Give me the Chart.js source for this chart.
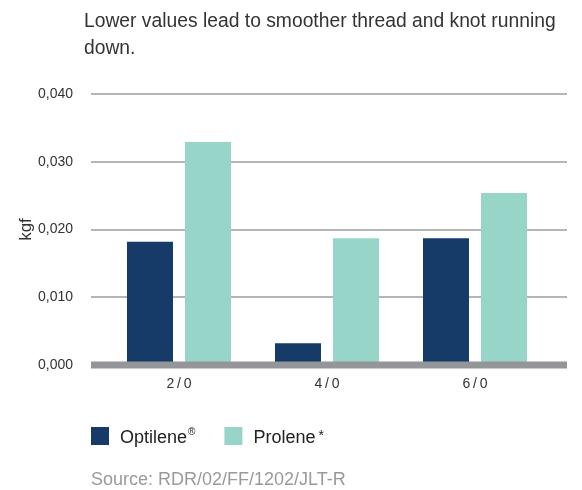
<!DOCTYPE html>
<html>
<head>
<meta charset="utf-8">
<script src="https://cdn.jsdelivr.net/npm/chart.js@4"></script>
<style>
  html, body { margin: 0; padding: 0; background: #fff; }
</style>
</head>
<body>
<canvas id="frictionChart" width="582" height="490"></canvas>
<script>
// data
const sizes = ['2/0', '4/0', '6/0'];
const optilene = [0.0182, 0.0032, 0.0187];
const prolene = [0.0329, 0.0187, 0.0254];
const seriesNames = ['Optilene', 'Prolene'];
const seriesMarks = ['®', '*'];
const seriesColors = ['#173b69', '#98d5c9'];
const titleLines = ['Lower values lead to smoother thread and knot running', 'down.'];
const sourceText = 'Source: RDR/02/FF/1202/JLT-R';

const FONT = '"Liberation Sans", Arial, sans-serif';

// horizontal grid lines reach a bit past the plot on both sides
const gridPlugin = {
    id: 'wideGrid',
    beforeDatasetsDraw(chart) {
        const { ctx, chartArea, scales: { y } } = chart;
        ctx.save();
        ctx.strokeStyle = '#9c9c9c';
        ctx.lineWidth = 1.5;
        y.ticks.forEach(t => {
            if (t.value === 0) return;
            const py = Math.round(y.getPixelForValue(t.value));
            ctx.beginPath();
            ctx.moveTo(chartArea.left - 14, py);
            ctx.lineTo(chartArea.right + 18, py);
            ctx.stroke();
        });
        ctx.restore();
    },
    afterDatasetsDraw(chart) {
        // thick grey base line
        const { ctx, chartArea, scales: { y } } = chart;
        const py = y.getPixelForValue(0);
        ctx.save();
        ctx.fillStyle = '#939598';
        ctx.fillRect(chartArea.left - 14, py - 3.5, chartArea.width + 32, 7);
        ctx.restore();
    }
};

// title, legend and source line
const textPlugin = {
    id: 'texts',
    afterDraw(chart) {
        const { ctx } = chart;
        ctx.save();
        ctx.textBaseline = 'alphabetic';
        ctx.textAlign = 'left';

        ctx.fillStyle = '#333';
        ctx.font = '19.3px ' + FONT;
        titleLines.forEach((line, i) => ctx.fillText(line, 84, 27 + i * 27));

        let x = 91;
        chart.data.datasets.forEach((ds, i) => {
            ctx.fillStyle = ds.backgroundColor;
            ctx.fillRect(x, 427, 18, 18);
            ctx.fillStyle = '#222';
            ctx.font = '18px ' + FONT;
            const tx = x + 29;
            ctx.fillText(seriesNames[i], tx, 443);
            let w = ctx.measureText(seriesNames[i]).width;
            ctx.font = (i === 0 ? '10px ' : '14px ') + FONT;
            ctx.fillText(seriesMarks[i], tx + w + (i === 0 ? 1 : 3), i === 0 ? 435 : 440);
            w += ctx.measureText(seriesMarks[i]).width + 3;
            x = tx + w + 27;
        });

        ctx.fillStyle = '#9a9a9a';
        ctx.font = '18px ' + FONT;
        ctx.fillText(sourceText, 91, 485);
        ctx.restore();
    }
};

new Chart(document.getElementById('frictionChart'), {
    type: 'bar',
    data: {
        labels: sizes,
        datasets: [
            {
                label: seriesNames[0] + seriesMarks[0],
                data: optilene,
                backgroundColor: seriesColors[0],
                categoryPercentage: 0.784,
                barPercentage: 0.793
            },
            {
                label: seriesNames[1] + seriesMarks[1],
                data: prolene,
                backgroundColor: seriesColors[1],
                categoryPercentage: 0.784,
                barPercentage: 0.793
            }
        ]
    },
    options: {
        responsive: false,
        animation: false,
        layout: {
            padding: { top: 94, right: 33, bottom: 65, left: 0 }
        },
        plugins: {
            legend: { display: false },
            title: { display: false },
            tooltip: { enabled: false }
        },
        scales: {
            x: {
                grid: { display: false },
                border: { display: false },
                ticks: {
                    color: '#333',
                    padding: 3,
                    font: { size: 14, family: FONT },
                    callback: function (v) {
                        // the reference spaces out the size labels
                        return this.getLabelForValue(v).split('').join('\u2009');
                    }
                },
                afterFit(axis) { axis.height = 60; }
            },
            y: {
                min: 0,
                max: 0.04,
                grid: { display: false },
                border: { display: false },
                title: {
                    display: true,
                    text: 'kgf',
                    color: '#333',
                    font: { size: 17, family: FONT },
                    padding: { top: 16, bottom: 0 }
                },
                ticks: {
                    stepSize: 0.01,
                    color: '#333',
                    padding: 24,
                    font: { size: 14, family: FONT },
                    callback: v => v.toFixed(3).replace('.', ',')
                },
                afterFit(axis) { axis.width = 105; }
            }
        }
    },
    plugins: [gridPlugin, textPlugin]
});
</script>
</body>
</html>
